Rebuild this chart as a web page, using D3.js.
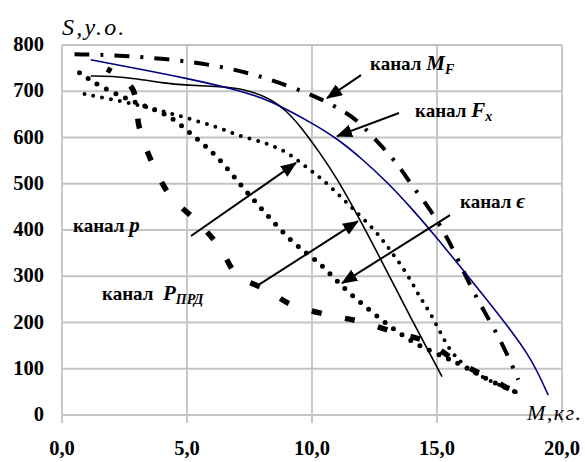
<!DOCTYPE html>
<html><head><meta charset="utf-8">
<script src="https://cdn.jsdelivr.net/npm/d3@7"></script>
<style>body{margin:0;background:#fff}svg{display:block}</style>
</head><body>
<script>
// ---- data (x: M, кг ; y: S, у.о.) ----
const xTicks = [0, 5, 10, 15, 20];
const xTickLabels = ["0,0", "5,0", "10,0", "15,0", "20,0"];
const yTicks = [0, 100, 200, 300, 400, 500, 600, 700, 800];
const yTickLabels = ["0", "100", "200", "300", "400", "500", "600", "700", "800"];

// канал M_F (dash-dot)
const channelMF = [[0.5,780],[2.5,778],[5.5,763],[7.6,739],[9.2,709],[10.3,685],[11.2,659],[11.8,638],[12.4,603],[13.0,569],[13.6,530],[14.0,495],[14.6,455],[15.5,378],[16.3,280],[17.1,205],[17.8,134],[18.25,76]];
// канал F_x (blue)
const channelFx = [[1.15,768],[3.0,749],[5.0,728],[7.0,703],[8.0,686],[9.0,661],[10.0,631],[11.0,598],[12.0,554],[13.0,504],[14.0,446],[15.0,383],[16.0,316],[17.0,249],[18.0,180],[18.6,134],[19.0,96],[19.45,43]];
// thin black curve
const channelBlack = [[1.15,733],[2.0,733],[3.0,727],[4.0,718],[5.0,713],[6.4,710],[7.2,706],[8.3,686],[9.0,657],[9.6,620],[10.3,568],[11.0,512],[11.9,424],[12.7,342],[14.0,205],[15.2,83]];
// канал P_ПРД (thick dashed)
const channelPprd = [[1.8,748],[2.8,707],[3.1,620],[3.7,534],[4.4,469],[5.4,419],[6.3,363],[7.0,303],[8.2,270],[9.2,238],[10.7,216],[12.0,201],[13.3,179],[14.6,158],[15.7,119],[17.0,82],[18.5,39]];
// канал p (dotted, big dots)
const channelP = [[0.7,740],[1.5,711],[2.6,683],[3.4,666],[4.3,649],[5.2,605],[6.2,562],[7.2,493],[8.1,439],[9.2,372],[10.3,331],[11.2,277],[12.2,231],[13.2,188],[14.2,151],[15.3,125],[16.0,108],[17.2,71],[18.45,43]];
// канал ε (dotted, small dots)
const channelEps = [[0.9,694],[2.7,675],[3.9,659],[5.0,642],[6.2,623],[7.2,601],[8.2,588],[9.1,566],[9.8,534],[10.3,515],[11.0,480],[11.6,448],[12.6,396],[13.2,350],[13.8,307],[14.3,255],[14.8,216],[15.4,148],[15.8,123],[16.3,97],[17.2,71],[18.45,43]];

// annotation arrows [from, tip] in data units
const arrows = [
  [[11.96,735],[10.6,685]],
  [[13.48,653],[11.0,603]],
  [[5.16,387],[9.36,545]],
  [[7.8,279],[11.84,419]],
  [[15.52,432],[11.2,285]]
];
// labels: [x, y, main, symbol, subscript]
const labels = [
  [12.32,746,"канал ","M","F"],
  [14.12,644,"канал ","F","x"],
  [15.92,448,"канал ","ϵ",""],
  [0.44,396,"канал ","p",""],
  [1.6,249,"канал  ","P","ПРД"]
];

// ---- drawing ----
const W = 585, H = 462;
const svg = d3.select("body").append("svg").attr("width", W).attr("height", H);
const x = d3.scaleLinear().domain([0, 20]).range([62, 562]);
const y = d3.scaleLinear().domain([0, 800]).range([415, 45]);
const serif = "'Liberation Serif', serif";

const grid = svg.append("g").attr("stroke", "#c3c3c3").attr("stroke-width", 1.8);
grid.selectAll("line.v").data(xTicks).join("line")
  .attr("x1", d => x(d)).attr("x2", d => x(d)).attr("y1", y(800)).attr("y2", y(0) + 8);
grid.selectAll("line.h").data(yTicks).join("line")
  .attr("x1", x(0)).attr("x2", x(20)).attr("y1", d => y(d)).attr("y2", d => y(d));

svg.append("g").selectAll("text").data(yTicks).join("text")
  .attr("font-family", serif).attr("x", 44).attr("y", d => y(d) + 6).attr("text-anchor", "end")
  .attr("font-weight", "bold").attr("font-size", 20.5)
  .text((d, i) => yTickLabels[i]);
svg.append("g").selectAll("text").data(xTicks).join("text")
  .attr("font-family", serif).attr("x", d => x(d)).attr("y", 455).attr("text-anchor", "middle")
  .attr("font-weight", "bold").attr("font-size", 20.5)
  .text((d, i) => xTickLabels[i]);

svg.append("text").attr("font-family", serif).attr("x", 62).attr("y", 35)
  .attr("font-style", "italic").attr("font-size", 24).attr("letter-spacing", 2.2).text("S,y.o.");
svg.append("text").attr("font-family", serif).attr("x", 527).attr("y", 420)
  .attr("font-style", "italic").attr("font-size", 22).attr("letter-spacing", 1.5).text("M,кг.");

const line = d3.line().x(d => x(d[0])).y(d => y(d[1])).curve(d3.curveBasis);
const lineThrough = d3.line().x(d => x(d[0])).y(d => y(d[1])).curve(d3.curveCatmullRom.alpha(0.5));

const curves = svg.append("g").attr("fill", "none");
curves.append("path").attr("d", line(channelEps)).attr("stroke", "#000").attr("stroke-width", 4)
  .attr("stroke-linecap", "round").attr("stroke-dasharray", "0,9");
curves.append("path").attr("d", line(channelP)).attr("stroke", "#000").attr("stroke-width", 5)
  .attr("stroke-linecap", "round").attr("stroke-dasharray", "0,10.5");
curves.append("path").attr("d", lineThrough(channelPprd)).attr("stroke", "#000").attr("stroke-width", 5.5)
  .attr("stroke-dasharray", "10,24").attr("stroke-dashoffset", 5);
curves.append("path").attr("d", line(channelMF)).attr("stroke", "#000").attr("stroke-width", 4)
  .attr("stroke-dasharray", "15,11,3,11");
curves.append("path").attr("d", line(channelBlack)).attr("stroke", "#000").attr("stroke-width", 1.6);
curves.append("path").attr("d", line(channelFx)).attr("stroke", "#000080").attr("stroke-width", 1.6);

svg.append("defs").append("marker").attr("id", "ah")
  .attr("markerUnits", "userSpaceOnUse").attr("markerWidth", 17).attr("markerHeight", 13)
  .attr("refX", 15).attr("refY", 6.5).attr("orient", "auto")
  .append("path").attr("d", "M0,0 L16,6.5 L0,13 Z").attr("fill", "#000");
svg.append("g").selectAll("line").data(arrows).join("line")
  .attr("x1", d => x(d[0][0])).attr("y1", d => y(d[0][1]))
  .attr("x2", d => x(d[1][0])).attr("y2", d => y(d[1][1]))
  .attr("stroke", "#000").attr("stroke-width", 2).attr("marker-end", "url(#ah)");

const lab = svg.append("g").attr("font-family", serif).attr("font-weight", "bold");
labels.forEach(l => {
  const t = lab.append("text").attr("font-family", serif).attr("x", x(l[0])).attr("y", y(l[1])).attr("xml:space", "preserve");
  t.append("tspan").attr("font-size", 19).text(l[2]);
  t.append("tspan").attr("font-size", 21).attr("font-style", "italic").text(l[3]);
  if (l[4]) t.append("tspan").attr("font-size", 14).attr("font-style", "italic").attr("dy", 4).text(l[4]);
});
</script>
</body></html>
